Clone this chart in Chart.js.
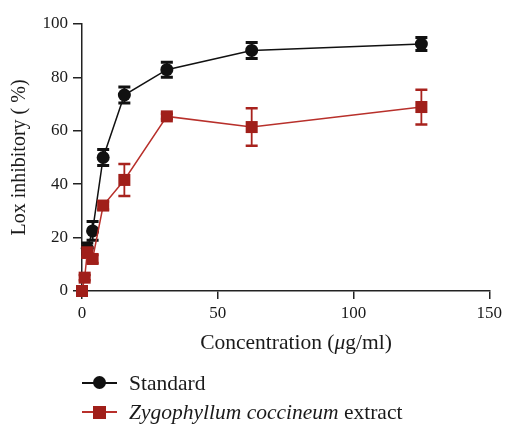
<!DOCTYPE html>
<html>
<head>
<meta charset="utf-8">
<script src="https://cdn.jsdelivr.net/npm/chart.js@4.4.1/dist/chart.umd.min.js"></script>
<style>
  html, body { margin: 0; padding: 0; background: #fff; }
  #wrap { position: relative; width: 506px; height: 424px; font-family: "Liberation Serif", serif; color: #1a1a1a; }
  #xtitle { position: absolute; left: 0; width: 592px; top: 329px; text-align: center; font-size: 21.5px; line-height: 26px; }
  .leg { position: absolute; left: 82px; font-size: 21.5px; height: 26px; line-height: 26px; }
  .leg .sym { position: absolute; left: 0; top: 0; width: 35px; height: 26px; }
  .leg .sym i { position: absolute; left: 0; top: 12px; width: 35px; height: 2px; }
  .leg .sym b { position: absolute; }
  .leg .txt { position: absolute; left: 47px; top: 0; white-space: nowrap; }
</style>
</head>
<body>
<div id="wrap">
  <canvas id="chart" width="506" height="424"></canvas>
  <div id="xtitle">Concentration (<i>μ</i>g/ml)</div>
  <div class="leg" style="top:370px">
    <span class="sym"><i style="background:#111"></i><b style="left:11px;top:6px;width:13px;height:13px;border-radius:50%;background:#111"></b></span>
    <span class="txt">Standard</span>
  </div>
  <div class="leg" style="top:399px">
    <span class="sym"><i style="background:#b8302b"></i><b style="left:11px;top:7px;width:13px;height:13px;background:#a01f1a"></b></span>
    <span class="txt"><i>Zygophyllum coccineum</i> extract</span>
  </div>
</div>
<script>
// concentrations (ug/ml)
var stdConc = [1.95, 3.9, 7.8, 15.6, 31.25, 62.5, 125];
var stdVal  = [16, 22.5, 50, 73.4, 82.9, 90.1, 92.5];
var stdErr  = [2, 3.5, 3, 3, 2.8, 3, 2.4];

var extConc = [0, 0.98, 1.95, 3.9, 7.8, 15.6, 31.25, 62.5, 125];
var extVal  = [0, 5, 14.5, 12, 32, 41.6, 65.4, 61.4, 68.9];
var extErr  = [0, 1, 2, 1.5, 1.5, 6, 1, 7, 6.5];

var xTicks = [0, 50, 100, 150];
var yTicks = [0, 20, 40, 60, 80, 100];

function pts(xs, ys) {
    return xs.map(function (x, i) { return { x: x, y: ys[i] }; });
}

// error bars, drawn through the chart scales
var errorBars = {
    id: 'errorBars',
    beforeDatasetsDraw: function (chart) {
        var ctx = chart.ctx;
        var xs = chart.scales.x, ys = chart.scales.y;
        chart.data.datasets.forEach(function (ds) {
            ctx.save();
            ctx.strokeStyle = ds.errColor;
            ds.data.forEach(function (p, i) {
                var e = ds.errors[i];
                if (!e) return;
                var px = xs.getPixelForValue(p.x);
                var top = ys.getPixelForValue(p.y + e);
                var bot = ys.getPixelForValue(p.y - e);
                ctx.lineWidth = ds.errWidth;
                ctx.beginPath();
                ctx.moveTo(px, top); ctx.lineTo(px, bot);
                ctx.stroke();
                ctx.lineWidth = ds.capWidth;
                ctx.beginPath();
                ctx.moveTo(px - 6, top); ctx.lineTo(px + 6, top);
                ctx.moveTo(px - 6, bot); ctx.lineTo(px + 6, bot);
                ctx.stroke();
            });
            ctx.restore();
        });
    }
};

var font = { family: 'Liberation Serif', size: 17 };

var ctx = document.getElementById('chart').getContext('2d');
var chart = new Chart(ctx, {
    type: 'line',
    data: {
        datasets: [{
            label: 'Standard',
            data: pts(stdConc, stdVal),
            errors: stdErr,
            errColor: '#111', errWidth: 2, capWidth: 3,
            borderColor: '#111',
            borderWidth: 1.5,
            pointStyle: 'circle',
            pointRadius: 6.5,
            pointBackgroundColor: '#111',
            pointBorderWidth: 0,
            clip: false,
            order: 1
        }, {
            label: 'Zygophyllum coccineum extract',
            data: pts(extConc, extVal),
            errors: extErr,
            errColor: '#a8221d', errWidth: 1.8, capWidth: 2.5,
            borderColor: '#b8302b',
            borderWidth: 1.5,
            pointStyle: 'rect',
            pointRadius: 8.5,
            pointBackgroundColor: '#a01f1a',
            pointBorderWidth: 0,
            clip: false,
            order: 0
        }]
    },
    options: {
        responsive: false,
        animation: false,
        layout: { padding: { top: 24, right: 15, left: 0, bottom: 0 } },
        plugins: { legend: { display: false }, tooltip: { enabled: false } },
        scales: {
            x: {
                type: 'linear',
                min: 0, max: 150,
                afterBuildTicks: function (s) { s.ticks = xTicks.map(function (v) { return { value: v }; }); },
                afterFit: function (s) { s.height = 424 - 291; },
                ticks: { font: font, color: '#1a1a1a', padding: 4, maxRotation: 0 },
                grid: { drawOnChartArea: false, drawTicks: true, tickLength: 8, color: '#222', lineWidth: 1.5 },
                border: { display: true, color: '#222', width: 1.5 }
            },
            y: {
                min: 0, max: 100,
                afterBuildTicks: function (s) { s.ticks = yTicks.map(function (v) { return { value: v }; }); },
                afterFit: function (s) { s.width = 82; },
                ticks: { font: font, color: '#1a1a1a', padding: 5 },
                grid: { drawOnChartArea: false, drawTicks: true, tickLength: 9, color: '#222', lineWidth: 1.5 },
                border: { display: true, color: '#222', width: 1.5 },
                title: { display: true, text: 'Lox inhibitory ( %)', font: { family: 'Liberation Serif', size: 20 }, color: '#1a1a1a', padding: { top: 8, bottom: 0 } }
            }
        }
    },
    plugins: [errorBars]
});
</script>
</body>
</html>
